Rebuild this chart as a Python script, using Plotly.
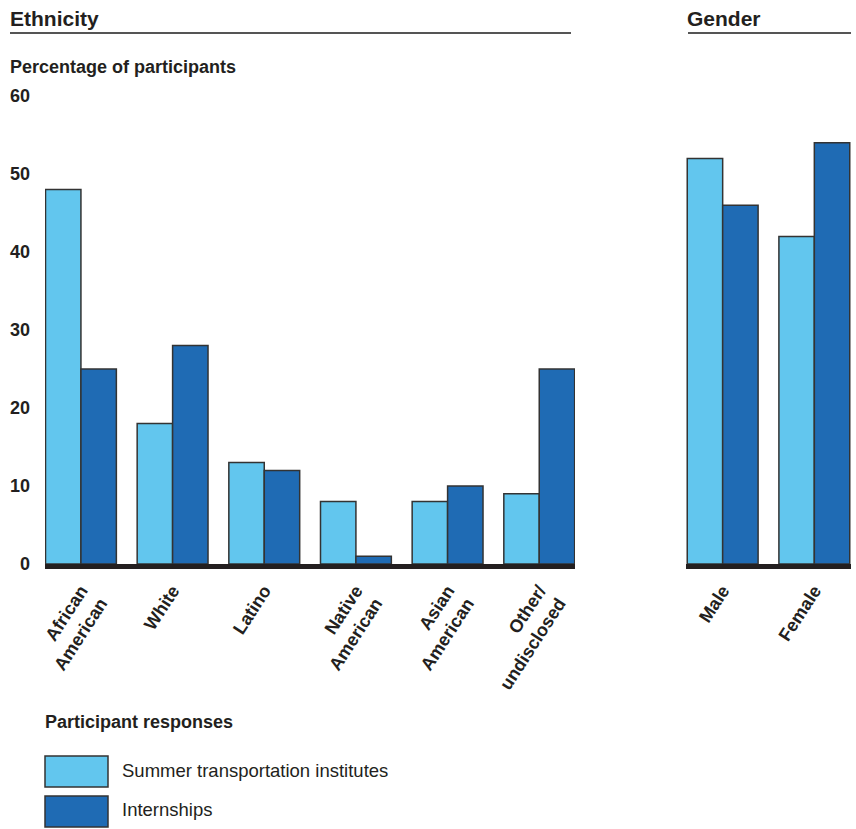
import plotly.graph_objects as go

W, H = 856, 829

eth_categories = ["African<br>American", "White", "Latino", "Native<br>American", "Asian<br>American", "Other/<br>undisclosed"]
eth_summer = [48, 18, 13, 8, 8, 9]
eth_intern = [25, 28, 12, 1, 10, 25]

gen_categories = ["Male", "Female"]
gen_summer = [52, 42]
gen_intern = [46, 54]

y_ticks = [0, 10, 20, 30, 40, 50, 60]

series_names = ["Summer transportation institutes", "Internships"]
LIGHT = "#62C6EE"
DARK = "#1F6BB4"
OUTLINE = "#333333"
TEXT = "#231f20"
FONT = "Liberation Sans, Arial, sans-serif"


def px(x):
    return x / W


def py(y):
    return 1 - y / H


fig = go.Figure()
for name, vals, col in [(series_names[0], eth_summer, LIGHT), (series_names[1], eth_intern, DARK)]:
    fig.add_trace(go.Bar(x=eth_categories, y=vals, name=name,
                         marker=dict(color=col, line=dict(color=OUTLINE, width=1.5)),
                         xaxis="x", yaxis="y", showlegend=False))
for name, vals, col in [(series_names[0], gen_summer, LIGHT), (series_names[1], gen_intern, DARK)]:
    fig.add_trace(go.Bar(x=gen_categories, y=vals, name=name,
                         marker=dict(color=col, line=dict(color=OUTLINE, width=1.5)),
                         xaxis="x2", yaxis="y2", showlegend=False))

y0 = py(564)
y60 = py(96)

tickfont = dict(family=FONT, size=18, color=TEXT, weight="bold")

fig.update_layout(
    width=W, height=H, margin=dict(l=0, r=0, t=0, b=0, autoexpand=False),
    paper_bgcolor="white", plot_bgcolor="white",
    barmode="group", bargap=0.227, bargroupgap=0,
    font=dict(family=FONT, color=TEXT),
    xaxis=dict(domain=[px(45), px(575)], range=[-0.392, 5.39], showline=True, linewidth=5, linecolor=TEXT,
               tickangle=-57, tickfont=tickfont, ticks="", showgrid=False, zeroline=False, anchor="y",
               ticklabelstandoff=4, automargin=False),
    yaxis=dict(domain=[y0, y60], range=[0, 60], tickvals=y_ticks, tickfont=tickfont, showgrid=False,
               zeroline=False, showline=False, ticks="", ticklabelstandoff=14, anchor="x", automargin=False),
    xaxis2=dict(domain=[px(686), px(851)], range=[-0.4, 1.4], showline=True, linewidth=5, linecolor=TEXT,
                tickangle=-57, tickfont=tickfont, ticks="", showgrid=False, zeroline=False, anchor="y2",
                ticklabelstandoff=4, automargin=False),
    yaxis2=dict(domain=[y0, y60], range=[0, 60], showticklabels=False, showgrid=False, zeroline=False,
                showline=False, anchor="x2", automargin=False),
)

shapes = [
    dict(type="line", xref="paper", yref="paper", x0=px(10), x1=px(571), y0=py(33), y1=py(33),
         line=dict(color="#555555", width=2)),
    dict(type="line", xref="paper", yref="paper", x0=px(688), x1=px(851), y0=py(33), y1=py(33),
         line=dict(color="#555555", width=2)),
    dict(type="rect", xref="paper", yref="paper", x0=px(45), x1=px(108), y0=py(756), y1=py(787),
         fillcolor=LIGHT, line=dict(color=OUTLINE, width=1.5)),
    dict(type="rect", xref="paper", yref="paper", x0=px(45), x1=px(108), y0=py(796), y1=py(827),
         fillcolor=DARK, line=dict(color=OUTLINE, width=1.5)),
]
fig.update_layout(shapes=shapes)


def ann(text, x, y, size, bold=True):
    return dict(text=text, x=px(x), y=py(y), xref="paper", yref="paper", xanchor="left", yanchor="middle",
                showarrow=False,
                font=dict(family=FONT, size=size, color=TEXT, weight="bold" if bold else "normal"))


fig.update_layout(annotations=[
    ann("Ethnicity", 8, 18, 21),
    ann("Gender", 685, 18, 21),
    ann("Percentage of participants", 8, 67, 18),
    ann("Participant responses", 43, 722, 18),
    ann(series_names[0], 120, 770, 18.5, bold=False),
    ann(series_names[1], 120, 809, 18.5, bold=False),
])

fig.write_html("out.html")
